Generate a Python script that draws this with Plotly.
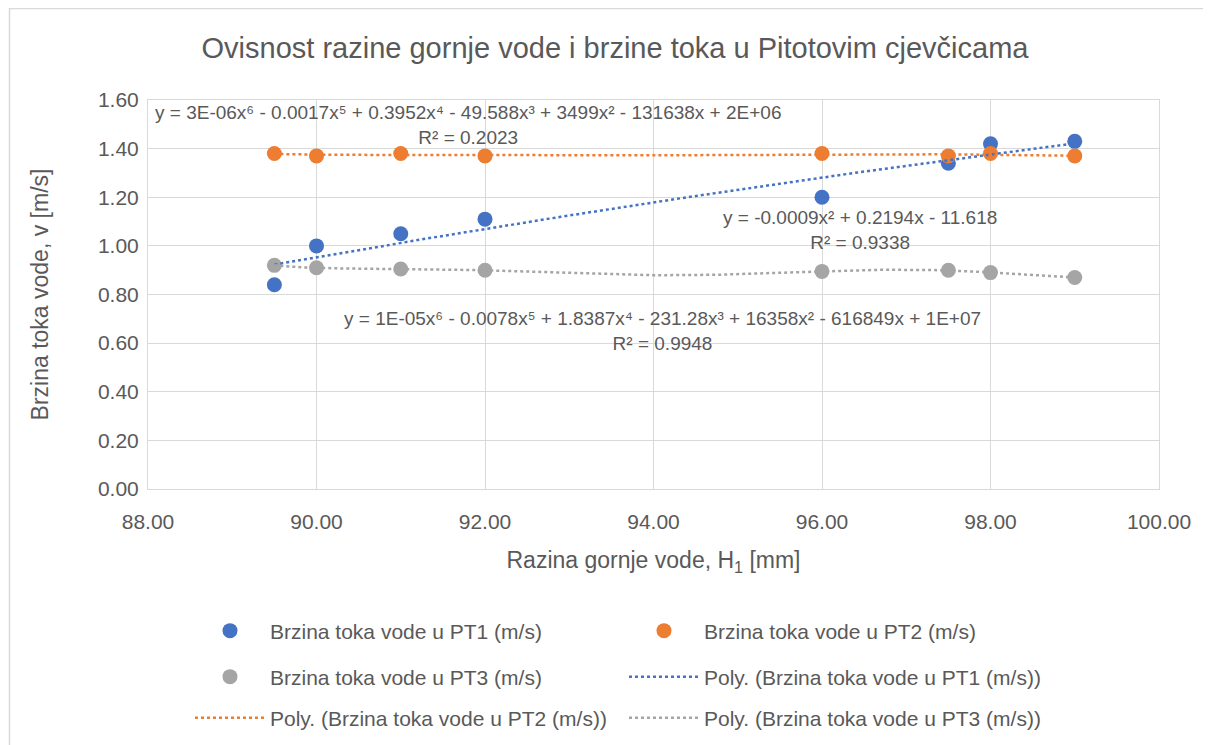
import numpy as np
import plotly.graph_objects as go

# ---- data ----
x_vals = [89.5, 90.0, 91.0, 92.0, 96.0, 97.5, 98.0, 99.0]
pt1 = [0.84, 1.00, 1.05, 1.11, 1.20, 1.34, 1.42, 1.43]
pt2 = [1.38, 1.37, 1.38, 1.37, 1.38, 1.37, 1.38, 1.37]
pt3 = [0.92, 0.91, 0.905, 0.90, 0.895, 0.90, 0.89, 0.87]
names = ["Brzina toka vode u PT1 (m/s)", "Brzina toka vode u PT2 (m/s)", "Brzina toka vode u PT3 (m/s)"]
colors = ["#4472C4", "#ED7D31", "#A5A5A5"]
orders = [2, 6, 6]
eq_texts = [
    "y = -0.0009x² + 0.2194x - 11.618<br>R² = 0.9338",
    "y = 3E-06x⁶ - 0.0017x⁵ + 0.3952x⁴ - 49.588x³ + 3499x² - 131638x + 2E+06<br>R² = 0.2023",
    "y = 1E-05x⁶ - 0.0078x⁵ + 1.8387x⁴ - 231.28x³ + 16358x² - 616849x + 1E+07<br>R² = 0.9948",
]
x_ticks = [88, 90, 92, 94, 96, 98, 100]
y_ticks = [0.0, 0.2, 0.4, 0.6, 0.8, 1.0, 1.2, 1.4, 1.6]

W, H = 1211, 745
OFF = 8  # page body margin
L, R, T, B = 140, 60, 92, 264
FONT = "Liberation Sans"
GREY = "#595959"


def px_x(p):
    return (p - OFF - L) / (W - L - R)


def px_y(p):
    return 1 - (p - OFF - T) / (H - T - B)


fig = go.Figure()
series = [pt1, pt2, pt3]
legends = ["legend", "legend", "legend2"]
for i in range(3):
    fig.add_trace(go.Scatter(x=x_vals, y=series[i], mode="markers", name=names[i],
                             marker=dict(color=colors[i], size=15), legend=legends[i]))

xa = np.array(x_vals)
xm = xa.mean()
xs = np.linspace(xa.min(), xa.max(), 300)
poly_legends = ["legend2", "legend3", "legend3"]
for i in range(3):
    c = np.polyfit(xa - xm, np.array(series[i]), orders[i])
    ys = np.polyval(c, xs - xm)
    fig.add_trace(go.Scatter(x=xs, y=ys, mode="lines", name="Poly. (" + names[i] + ")",
                             line=dict(color=colors[i], width=2.5, dash="dot"),
                             legend=poly_legends[i], hoverinfo="skip"))

eq_pos = [(860, 230), (468, 124.5), (662, 331)]
for txt, (ex, ey) in zip(eq_texts, eq_pos):
    fig.add_annotation(x=px_x(ex), y=px_y(ey), xref="paper", yref="paper", text=txt,
                       showarrow=False, font=dict(family=FONT, size=19, color=GREY),
                       align="center", xanchor="center", yanchor="middle")

leg_common = dict(orientation="h", xanchor="left", yanchor="middle",
                  entrywidth=349, entrywidthmode="pixels",
                  itemwidth=70, font=dict(family=FONT, size=21, color=GREY),
                  bgcolor="rgba(0,0,0,0)")
rows = [631, 677, 718]
LEG_X = 190

fig.update_layout(
    width=W, height=H,
    margin=dict(l=L, r=R, t=T, b=B, autoexpand=False),
    paper_bgcolor="white", plot_bgcolor="white",
    title=dict(text="Ovisnost razine gornje vode i brzine toka u Pitotovim cjevčicama",
               x=(615 - OFF) / W, xanchor="center", y=1 - (48 - OFF) / H, yanchor="middle",
               font=dict(family=FONT, size=29, color=GREY)),
    xaxis=dict(range=[88, 100], tickvals=x_ticks, ticktext=[f"{v:.2f}" for v in x_ticks],
               showgrid=True, gridcolor="#D9D9D9", gridwidth=1, zeroline=False,
               showline=True, linecolor="#D9D9D9", mirror=True, ticks="",
               ticklabelstandoff=14,
               tickfont=dict(family=FONT, size=21, color=GREY),
               title=dict(text="Razina gornje vode, H<sub>1</sub> [mm]", standoff=19,
                          font=dict(family=FONT, size=23, color=GREY))),
    yaxis=dict(range=[0, 1.6], tickvals=y_ticks, ticktext=[f"{v:.2f}" for v in y_ticks],
               showgrid=True, gridcolor="#D9D9D9", gridwidth=1, zeroline=False,
               showline=True, linecolor="#D9D9D9", mirror=True, ticks="",
               ticklabelstandoff=4,
               tickfont=dict(family=FONT, size=21, color=GREY),
               title=dict(text="Brzina toka vode, v [m/s]", standoff=42,
                          font=dict(family=FONT, size=23, color=GREY))),
    legend=dict(x=px_x(LEG_X), y=px_y(rows[0]), **leg_common),
    legend2=dict(x=px_x(LEG_X), y=px_y(rows[1]), **leg_common),
    legend3=dict(x=px_x(LEG_X), y=px_y(rows[2]), **leg_common),
    showlegend=True,
)

# chart-area border
fig.add_shape(type="rect", xref="paper", yref="paper",
              x0=px_x(9.5), x1=px_x(1208), y0=px_y(760), y1=px_y(8.5),
              line=dict(color="#D9D9D9", width=1.5), fillcolor="rgba(0,0,0,0)", layer="below")

fig.write_html("out.html")
